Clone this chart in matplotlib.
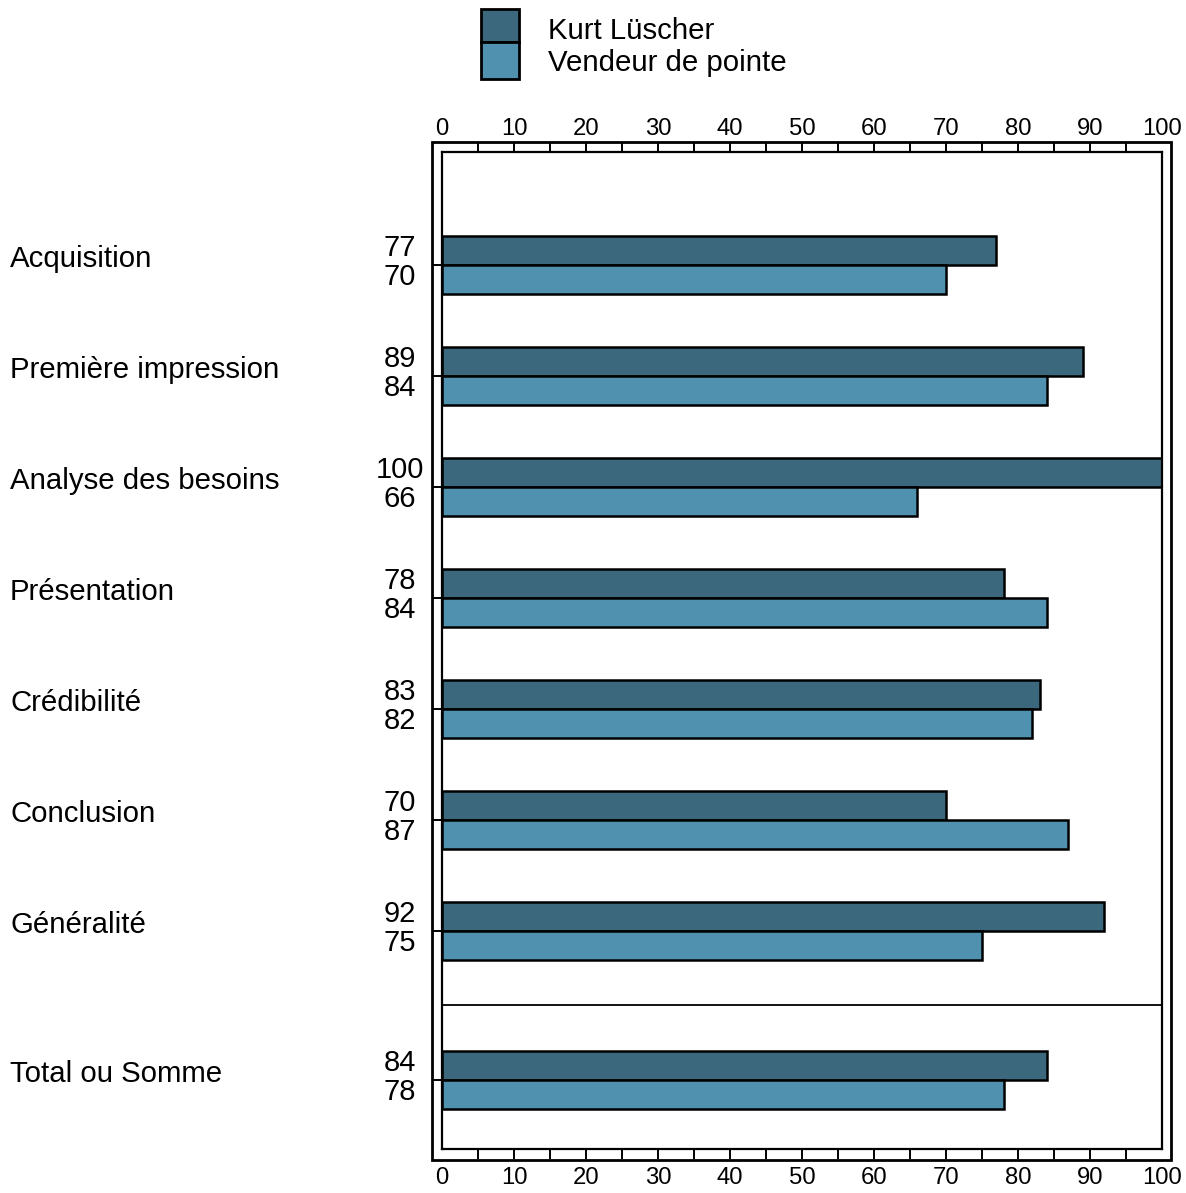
import numpy as np
import matplotlib.pyplot as plt
from matplotlib.patches import Rectangle
from matplotlib.ticker import MultipleLocator
import matplotlib.transforms as mtransforms

plt.rcParams['font.family'] = ['Liberation Sans', 'DejaVu Sans']

categories = ['Acquisition', 'Première impression', 'Analyse des besoins',
              'Présentation', 'Crédibilité', 'Conclusion', 'Généralité',
              'Total ou Somme']
kurt = [77, 89, 100, 78, 83, 70, 92, 84]
vendeur = [70, 84, 66, 84, 82, 87, 75, 78]
series_names = ['Kurt Lüscher', 'Vendeur de pointe']
dark = '#3b687c'
light = '#5091af'

W, H = 1186, 1193
fig = plt.figure(figsize=(W / 100, H / 100), dpi=100)

def fx(px):
    return px / W

def fy(py):
    return 1 - py / H

# inner plotting area
ax = fig.add_axes([fx(442), fy(1149), fx(1162) - fx(442), fy(152) - fy(1149)])

# seven criteria, then the total set a bit apart below a divider
ypos = np.append(np.arange(7), 6 + 149 / 111)
bh = 0.257
ax.barh(ypos - bh / 2, kurt, height=bh, color=dark, edgecolor='black', linewidth=1.8)
ax.barh(ypos + bh / 2, vendeur, height=bh, color=light, edgecolor='black', linewidth=1.8)
ax.axhline(6 + 74 / 111, color='black', linewidth=1.3)

ax.set_xlim(0, 100)
ax.set_ylim(ypos[-1] + 69 / 111, -113 / 111)
for s in ax.spines.values():
    s.set_linewidth(1.6)

# labels every 10, tick marks every 5 in the gap between the two frames
ax.xaxis.set_major_locator(MultipleLocator(10))
ax.xaxis.set_minor_locator(plt.FixedLocator(np.arange(5, 100, 5)))
ax.xaxis.remove_overlapping_locs = False
ax.tick_params(axis='x', which='major', length=0, labelsize=17.2, pad=13)
ax.tick_params(axis='x', which='minor', direction='out', length=7.3, width=1.4,
               top=True, bottom=True)
ax.set_yticks(ypos)
ax.set_yticklabels([])
ax.tick_params(axis='y', direction='out', length=7.3, width=1.4)

top = ax.secondary_xaxis('top')
top.xaxis.set_major_locator(MultipleLocator(10))
top.tick_params(length=0, labelsize=17.2, pad=8.5)
for s in top.spines.values():
    s.set_visible(False)

# outer frame
fig.patches.append(Rectangle((fx(432), fy(1160)), fx(1171) - fx(432), fy(142) - fy(1160),
                             transform=fig.transFigure, fill=False,
                             edgecolor='black', linewidth=2.0))

# value labels left of the bars
trans = mtransforms.blended_transform_factory(ax.transAxes, ax.transData)
for y, a, b in zip(ypos, kurt, vendeur):
    ax.text(-0.0583, y - bh / 2 + 0.05, str(a), transform=trans, ha='center',
            va='baseline', fontsize=21)
    ax.text(-0.0583, y + bh / 2 + 0.05, str(b), transform=trans, ha='center',
            va='baseline', fontsize=21)

# category names at the left edge
ctrans = mtransforms.blended_transform_factory(fig.transFigure, ax.transData)
for y, name in zip(ypos, categories):
    ax.text(fx(10), y + 0.02, name, transform=ctrans, ha='left', va='baseline',
            fontsize=21.2)

# legend
for (y0, y1), c, name, ty in zip([(9, 42), (42, 79)], [dark, light], series_names, [31, 63]):
    fig.patches.append(Rectangle((fx(481), fy(y1)), fx(519) - fx(481), fy(y0) - fy(y1),
                                 transform=fig.transFigure, facecolor=c,
                                 edgecolor='black', linewidth=2.0))
    fig.text(fx(548), fy(ty), name, ha='left', va='center', fontsize=21.2)

fig.savefig('out.png', dpi=100)
